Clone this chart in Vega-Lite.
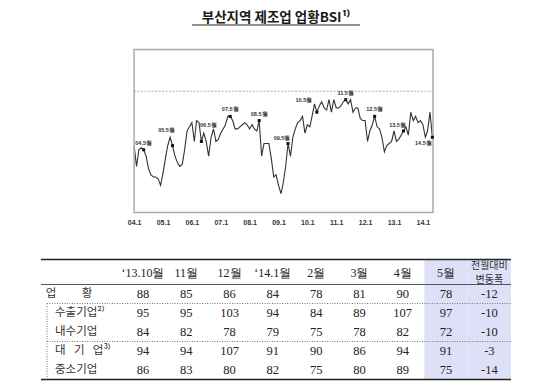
{
  "$schema": "https://vega.github.io/schema/vega-lite/v6.json",
  "background": "white",
  "padding": {"left": 40, "top": 10.5, "right": 0, "bottom": 0},
  "config": {"view": {"stroke": null}, "axisBand": {"disable": true}, "axisTemporal": {"labelOverlap": false}},
  "datasets": {
    "bsi": [
      {"date": "2004/01/01", "bsi": 74}, {"date": "2004/02/01", "bsi": 64}, {"date": "2004/03/01", "bsi": 72}, {"date": "2004/04/01", "bsi": 73},
      {"date": "2004/05/01", "bsi": 72}, {"date": "2004/06/01", "bsi": 69}, {"date": "2004/07/01", "bsi": 63}, {"date": "2004/08/01", "bsi": 60},
      {"date": "2004/09/01", "bsi": 59}, {"date": "2004/10/01", "bsi": 59}, {"date": "2004/11/01", "bsi": 58}, {"date": "2004/12/01", "bsi": 55},
      {"date": "2005/01/01", "bsi": 61}, {"date": "2005/02/01", "bsi": 68}, {"date": "2005/03/01", "bsi": 74}, {"date": "2005/04/01", "bsi": 78},
      {"date": "2005/05/01", "bsi": 74}, {"date": "2005/06/01", "bsi": 69}, {"date": "2005/07/01", "bsi": 66}, {"date": "2005/08/01", "bsi": 64},
      {"date": "2005/09/01", "bsi": 65}, {"date": "2005/10/01", "bsi": 72}, {"date": "2005/11/01", "bsi": 81}, {"date": "2005/12/01", "bsi": 83},
      {"date": "2006/01/01", "bsi": 85}, {"date": "2006/02/01", "bsi": 76}, {"date": "2006/03/01", "bsi": 86}, {"date": "2006/04/01", "bsi": 85},
      {"date": "2006/05/01", "bsi": 76}, {"date": "2006/06/01", "bsi": 80}, {"date": "2006/07/01", "bsi": 76}, {"date": "2006/08/01", "bsi": 69},
      {"date": "2006/09/01", "bsi": 78}, {"date": "2006/10/01", "bsi": 82}, {"date": "2006/11/01", "bsi": 76}, {"date": "2006/12/01", "bsi": 77},
      {"date": "2007/01/01", "bsi": 80}, {"date": "2007/02/01", "bsi": 82}, {"date": "2007/03/01", "bsi": 84}, {"date": "2007/04/01", "bsi": 88},
      {"date": "2007/05/01", "bsi": 88}, {"date": "2007/06/01", "bsi": 86}, {"date": "2007/07/01", "bsi": 82}, {"date": "2007/08/01", "bsi": 82},
      {"date": "2007/09/01", "bsi": 83}, {"date": "2007/10/01", "bsi": 84}, {"date": "2007/11/01", "bsi": 85}, {"date": "2007/12/01", "bsi": 84},
      {"date": "2008/01/01", "bsi": 82}, {"date": "2008/02/01", "bsi": 84}, {"date": "2008/03/01", "bsi": 82}, {"date": "2008/04/01", "bsi": 81},
      {"date": "2008/05/01", "bsi": 86}, {"date": "2008/06/01", "bsi": 69}, {"date": "2008/07/01", "bsi": 75}, {"date": "2008/08/01", "bsi": 75},
      {"date": "2008/09/01", "bsi": 75}, {"date": "2008/10/01", "bsi": 68}, {"date": "2008/11/01", "bsi": 59}, {"date": "2008/12/01", "bsi": 60},
      {"date": "2009/01/01", "bsi": 55}, {"date": "2009/02/01", "bsi": 51}, {"date": "2009/03/01", "bsi": 56}, {"date": "2009/04/01", "bsi": 64},
      {"date": "2009/05/01", "bsi": 75}, {"date": "2009/06/01", "bsi": 69}, {"date": "2009/07/01", "bsi": 78}, {"date": "2009/08/01", "bsi": 82},
      {"date": "2009/09/01", "bsi": 85}, {"date": "2009/10/01", "bsi": 86}, {"date": "2009/11/01", "bsi": 88}, {"date": "2009/12/01", "bsi": 80},
      {"date": "2010/01/01", "bsi": 84}, {"date": "2010/02/01", "bsi": 83}, {"date": "2010/03/01", "bsi": 88}, {"date": "2010/04/01", "bsi": 94},
      {"date": "2010/05/01", "bsi": 90}, {"date": "2010/06/01", "bsi": 93}, {"date": "2010/07/01", "bsi": 95}, {"date": "2010/08/01", "bsi": 92},
      {"date": "2010/09/01", "bsi": 91}, {"date": "2010/10/01", "bsi": 96}, {"date": "2010/11/01", "bsi": 90}, {"date": "2010/12/01", "bsi": 96},
      {"date": "2011/01/01", "bsi": 92}, {"date": "2011/02/01", "bsi": 92}, {"date": "2011/03/01", "bsi": 93}, {"date": "2011/04/01", "bsi": 95},
      {"date": "2011/05/01", "bsi": 96}, {"date": "2011/06/01", "bsi": 94}, {"date": "2011/07/01", "bsi": 96}, {"date": "2011/08/01", "bsi": 90},
      {"date": "2011/09/01", "bsi": 92}, {"date": "2011/10/01", "bsi": 92}, {"date": "2011/11/01", "bsi": 87}, {"date": "2011/12/01", "bsi": 86},
      {"date": "2012/01/01", "bsi": 86}, {"date": "2012/02/01", "bsi": 76}, {"date": "2012/03/01", "bsi": 81}, {"date": "2012/04/01", "bsi": 84},
      {"date": "2012/05/01", "bsi": 88}, {"date": "2012/06/01", "bsi": 83}, {"date": "2012/07/01", "bsi": 82}, {"date": "2012/08/01", "bsi": 78},
      {"date": "2012/09/01", "bsi": 71}, {"date": "2012/10/01", "bsi": 74}, {"date": "2012/11/01", "bsi": 75}, {"date": "2012/12/01", "bsi": 76},
      {"date": "2013/01/01", "bsi": 81}, {"date": "2013/02/01", "bsi": 76}, {"date": "2013/03/01", "bsi": 77}, {"date": "2013/04/01", "bsi": 79},
      {"date": "2013/05/01", "bsi": 81}, {"date": "2013/06/01", "bsi": 83}, {"date": "2013/07/01", "bsi": 79}, {"date": "2013/08/01", "bsi": 90},
      {"date": "2013/09/01", "bsi": 86}, {"date": "2013/10/01", "bsi": 88}, {"date": "2013/11/01", "bsi": 85}, {"date": "2013/12/01", "bsi": 86},
      {"date": "2014/01/01", "bsi": 84}, {"date": "2014/02/01", "bsi": 78}, {"date": "2014/03/01", "bsi": 81}, {"date": "2014/04/01", "bsi": 90},
      {"date": "2014/05/01", "bsi": 78}
    ],
    "cols": [
      {"col": "구분"}, {"col": "‘13.10월"}, {"col": "11월"}, {"col": "12월"}, {"col": "‘14.1월"},
      {"col": "2월"}, {"col": "3월"}, {"col": "4월"}, {"col": "5월"}, {"col": "전월대비\n변동폭"}
    ],
    "table": [
      {"row": "업\u3000\u3000 황", "col": "‘13.10월", "v": 88}, {"row": "업\u3000\u3000 황", "col": "11월", "v": 85}, {"row": "업\u3000\u3000 황", "col": "12월", "v": 86},
      {"row": "업\u3000\u3000 황", "col": "‘14.1월", "v": 84}, {"row": "업\u3000\u3000 황", "col": "2월", "v": 78}, {"row": "업\u3000\u3000 황", "col": "3월", "v": 81},
      {"row": "업\u3000\u3000 황", "col": "4월", "v": 90}, {"row": "업\u3000\u3000 황", "col": "5월", "v": 78}, {"row": "업\u3000\u3000 황", "col": "전월대비\n변동폭", "v": -12},
      {"row": "수출기업²⁾", "col": "‘13.10월", "v": 95}, {"row": "수출기업²⁾", "col": "11월", "v": 95}, {"row": "수출기업²⁾", "col": "12월", "v": 103},
      {"row": "수출기업²⁾", "col": "‘14.1월", "v": 94}, {"row": "수출기업²⁾", "col": "2월", "v": 84}, {"row": "수출기업²⁾", "col": "3월", "v": 89},
      {"row": "수출기업²⁾", "col": "4월", "v": 107}, {"row": "수출기업²⁾", "col": "5월", "v": 97}, {"row": "수출기업²⁾", "col": "전월대비\n변동폭", "v": -10},
      {"row": "내수기업", "col": "‘13.10월", "v": 84}, {"row": "내수기업", "col": "11월", "v": 82}, {"row": "내수기업", "col": "12월", "v": 78},
      {"row": "내수기업", "col": "‘14.1월", "v": 79}, {"row": "내수기업", "col": "2월", "v": 75}, {"row": "내수기업", "col": "3월", "v": 78},
      {"row": "내수기업", "col": "4월", "v": 82}, {"row": "내수기업", "col": "5월", "v": 72}, {"row": "내수기업", "col": "전월대비\n변동폭", "v": -10},
      {"row": "대\u2002 기\u2002 업³⁾", "col": "‘13.10월", "v": 94}, {"row": "대\u2002 기\u2002 업³⁾", "col": "11월", "v": 94}, {"row": "대\u2002 기\u2002 업³⁾", "col": "12월", "v": 107},
      {"row": "대\u2002 기\u2002 업³⁾", "col": "‘14.1월", "v": 91}, {"row": "대\u2002 기\u2002 업³⁾", "col": "2월", "v": 90}, {"row": "대\u2002 기\u2002 업³⁾", "col": "3월", "v": 86},
      {"row": "대\u2002 기\u2002 업³⁾", "col": "4월", "v": 94}, {"row": "대\u2002 기\u2002 업³⁾", "col": "5월", "v": 91}, {"row": "대\u2002 기\u2002 업³⁾", "col": "전월대비\n변동폭", "v": -3},
      {"row": "중소기업", "col": "‘13.10월", "v": 86}, {"row": "중소기업", "col": "11월", "v": 83}, {"row": "중소기업", "col": "12월", "v": 80},
      {"row": "중소기업", "col": "‘14.1월", "v": 82}, {"row": "중소기업", "col": "2월", "v": 75}, {"row": "중소기업", "col": "3월", "v": 80},
      {"row": "중소기업", "col": "4월", "v": 89}, {"row": "중소기업", "col": "5월", "v": 75}, {"row": "중소기업", "col": "전월대비\n변동폭", "v": -14}
    ]
  },
  "spacing": 24,
  "center": true,
  "bounds": "flush",
  "vconcat": [
    {
      "width": 168,
      "height": 1,
      "view": {"fill": "#222222", "stroke": null},
      "title": {"text": "부산지역 제조업 업황BSI¹⁾", "font": "Noto Sans CJK KR", "fontSize": 13.5, "fontWeight": "bold", "color": "#1a1a1a", "anchor": "middle", "offset": -2},
      "data": {"values": [{}]},
      "mark": {"type": "point", "opacity": 0},
      "encoding": {}
    },
    {
      "width": 314,
      "height": 163,
      "data": {"name": "bsi"},
      "layer": [
        {
          "mark": {"type": "line", "color": "#333333", "strokeWidth": 1.1},
          "encoding": {
            "x": {
              "field": "date", "type": "temporal",
              "scale": {"domain": [{"year": 2003, "month": 6, "date": 24}, {"year": 2014, "month": 5, "date": 9}]},
              "axis": {
                "title": null, "domain": false, "ticks": false, "grid": false,
                "tickCount": {"interval": "year", "step": 1},
                "values": [
                  {"year": 2004, "month": 1, "date": 1}, {"year": 2005, "month": 1, "date": 1}, {"year": 2006, "month": 1, "date": 1},
                  {"year": 2007, "month": 1, "date": 1}, {"year": 2008, "month": 1, "date": 1}, {"year": 2009, "month": 1, "date": 1},
                  {"year": 2010, "month": 1, "date": 1}, {"year": 2011, "month": 1, "date": 1}, {"year": 2012, "month": 1, "date": 1},
                  {"year": 2013, "month": 1, "date": 1}, {"year": 2014, "month": 1, "date": 1}
                ],
                "format": "%y.%-m",
                "labelFont": "Liberation Sans", "labelFontSize": 7, "labelFontWeight": "bold", "labelColor": "#333333",
                "labelPadding": 6, "labelFlush": false, "labelOverlap": false, "labelSeparation": 0
              }
            },
            "y": {"field": "bsi", "type": "quantitative", "scale": {"domain": [42, 120], "nice": false, "zero": false}, "axis": null}
          }
        },
        {
          "data": {"values": [{}]},
          "mark": {"type": "rect", "filled": false, "stroke": "#aaaaaa", "strokeWidth": 1.5},
          "encoding": {
            "x": {"datum": {"year": 2004, "month": 1, "date": 1}, "type": "temporal"},
            "x2": {"datum": {"year": 2014, "month": 5, "date": 9}},
            "y": {"datum": 42, "type": "quantitative", "axis": null},
            "y2": {"datum": 120}
          }
        },
        {
          "data": {"values": [{}]},
          "mark": {"type": "rule", "color": "#999999", "strokeWidth": 0.8, "strokeDash": [2, 1.5]},
          "encoding": {
            "x": {"datum": {"year": 2004, "month": 1, "date": 1}, "type": "temporal"},
            "x2": {"datum": {"year": 2014, "month": 5, "date": 9}},
            "y": {"datum": 100, "type": "quantitative", "axis": null}
          }
        },
        {
          "transform": [{"filter": "month(datum.date) == 4"}],
          "mark": {"type": "square", "size": 9, "color": "#111111", "opacity": 1},
          "encoding": {
            "x": {"field": "date", "type": "temporal"},
            "y": {"field": "bsi", "type": "quantitative", "axis": null}
          }
        },
        {
          "transform": [{"filter": "month(datum.date) == 4 && indexof([2004, 2007, 2008, 2011, 2012], year(datum.date)) >= 0"}],
          "mark": {"type": "text", "font": "Liberation Sans", "fontSize": 5.5, "fontWeight": "bold", "color": "#333333", "dy": -7},
          "encoding": {
            "x": {"field": "date", "type": "temporal"},
            "y": {"field": "bsi", "type": "quantitative", "axis": null},
            "text": {"field": "date", "type": "temporal", "format": "%y.%-m월"}
          }
        },
        {
          "transform": [{"filter": "month(datum.date) == 4 && indexof([2009, 2013], year(datum.date)) >= 0"}],
          "mark": {"type": "text", "font": "Liberation Sans", "fontSize": 5.5, "fontWeight": "bold", "color": "#333333", "dx": -6, "dy": -6},
          "encoding": {
            "x": {"field": "date", "type": "temporal"},
            "y": {"field": "bsi", "type": "quantitative", "axis": null},
            "text": {"field": "date", "type": "temporal", "format": "%y.%-m월"}
          }
        },
        {
          "transform": [{"filter": "month(datum.date) == 4 && year(datum.date) == 2005"}],
          "mark": {"type": "text", "font": "Liberation Sans", "fontSize": 5.5, "fontWeight": "bold", "color": "#333333", "dx": -6, "dy": -16},
          "encoding": {
            "x": {"field": "date", "type": "temporal"},
            "y": {"field": "bsi", "type": "quantitative", "axis": null},
            "text": {"field": "date", "type": "temporal", "format": "%y.%-m월"}
          }
        },
        {
          "transform": [{"filter": "month(datum.date) == 4 && year(datum.date) == 2010"}],
          "mark": {"type": "text", "font": "Liberation Sans", "fontSize": 5.5, "fontWeight": "bold", "color": "#333333", "dx": -13, "dy": -12},
          "encoding": {
            "x": {"field": "date", "type": "temporal"},
            "y": {"field": "bsi", "type": "quantitative", "axis": null},
            "text": {"field": "date", "type": "temporal", "format": "%y.%-m월"}
          }
        },
        {
          "transform": [{"filter": "month(datum.date) == 4 && year(datum.date) == 2006"}],
          "mark": {"type": "text", "font": "Liberation Sans", "fontSize": 5.5, "fontWeight": "bold", "color": "#333333", "dx": 7, "dy": -16},
          "encoding": {
            "x": {"field": "date", "type": "temporal"},
            "y": {"field": "bsi", "type": "quantitative", "axis": null},
            "text": {"field": "date", "type": "temporal", "format": "%y.%-m월"}
          }
        },
        {
          "transform": [{"filter": "month(datum.date) == 4 && year(datum.date) == 2014"}],
          "mark": {"type": "text", "font": "Liberation Sans", "fontSize": 5.5, "fontWeight": "bold", "color": "#333333", "dx": -9, "dy": 6},
          "encoding": {
            "x": {"field": "date", "type": "temporal"},
            "y": {"field": "bsi", "type": "quantitative", "axis": null},
            "text": {"field": "date", "type": "temporal", "format": "%y.%-m월"}
          }
        }
      ]
    },
    {
      "width": 470,
      "height": 143,
      "layer": [
        {
          "data": {"name": "cols"},
          "transform": [{"filter": {"field": "col", "oneOf": ["5월", "전월대비\n변동폭"]}}],
          "mark": {"type": "rect", "color": "#dde0f6", "yOffset": -15.5, "y2Offset": 9.5},
          "encoding": {
            "x": {
              "field": "col", "type": "nominal", "axis": null,
              "scale": {
                "domain": ["구분", "‘13.10월", "11월", "12월", "‘14.1월", "2월", "3월", "4월", "5월", "전월대비\n변동폭"],
                "paddingInner": 0, "paddingOuter": 0.427, "align": 1, "round": false
              }
            },
            "y": {"datum": "hdr", "type": "nominal", "axis": null},
            "y2": {"datum": "중소기업"}
          }
        },
        {
          "data": {"name": "table"},
          "mark": {"type": "text", "font": "Liberation Serif", "fontSize": 12.5, "color": "#222222"},
          "encoding": {
            "x": {"field": "col", "type": "nominal", "axis": null},
            "y": {
              "field": "row", "type": "nominal", "axis": null,
              "scale": {
                "domain": ["hdr", "업\u3000\u3000 황", "수출기업²⁾", "내수기업", "대\u2002 기\u2002 업³⁾", "중소기업"],
                "paddingInner": 0, "paddingOuter": 0.7632, "align": 1, "round": false
              }
            },
            "text": {"field": "v", "type": "nominal"}
          }
        },
        {
          "data": {"values": [{}]},
          "mark": {"type": "rule", "color": "#222222", "strokeWidth": 1.6, "yOffset": -15.5},
          "encoding": {"y": {"datum": "hdr", "type": "nominal", "axis": null}}
        },
        {
          "data": {"values": [{}]},
          "mark": {"type": "rule", "color": "#444444", "strokeWidth": 0.9, "yOffset": 9.5},
          "encoding": {"y": {"datum": "hdr", "type": "nominal", "axis": null}}
        },
        {
          "data": {"values": [{}]},
          "mark": {"type": "rule", "color": "#222222", "strokeWidth": 1.6, "yOffset": 9.5},
          "encoding": {"y": {"datum": "중소기업", "type": "nominal", "axis": null}}
        },
        {
          "data": {"values": [{"row": "업\u3000\u3000 황"}, {"row": "내수기업"}]},
          "mark": {"type": "rule", "color": "#777777", "strokeWidth": 1, "strokeDash": [1, 1.5], "yOffset": 9.5, "xOffset": -52.6, "x2Offset": 21.65},
          "encoding": {
            "y": {"field": "row", "type": "nominal", "axis": null},
            "x": {"datum": "구분", "type": "nominal", "axis": null},
            "x2": {"datum": "전월대비\n변동폭"}
          }
        },
        {
          "data": {"values": [{}]},
          "mark": {"type": "rule", "color": "#777777", "strokeWidth": 1, "strokeDash": [1, 1.5], "xOffset": -52.6, "yOffset": -9.5, "y2Offset": 9.5},
          "encoding": {
            "x": {"datum": "구분", "type": "nominal", "axis": null},
            "y": {"datum": "수출기업²⁾", "type": "nominal", "axis": null},
            "y2": {"datum": "중소기업"}
          }
        },
        {
          "data": {"name": "cols"},
          "transform": [{"filter": {"not": {"field": "col", "oneOf": ["구분", "전월대비\n변동폭"]}}}],
          "mark": {"type": "text", "font": "Liberation Serif", "fontSize": 12, "color": "#222222", "dy": -2},
          "encoding": {
            "x": {"field": "col", "type": "nominal", "axis": null},
            "y": {"datum": "hdr", "type": "nominal", "axis": null},
            "text": {"field": "col", "type": "nominal"}
          }
        },
        {
          "data": {"name": "cols"},
          "transform": [{"filter": {"field": "col", "equal": "전월대비\n변동폭"}}],
          "mark": {"type": "text", "font": "Noto Sans CJK KR", "fontSize": 10, "color": "#333333", "lineBreak": "\n", "lineHeight": 13.5, "dy": -9},
          "encoding": {
            "x": {"field": "col", "type": "nominal", "axis": null},
            "y": {"datum": "hdr", "type": "nominal", "axis": null},
            "text": {"field": "col", "type": "nominal"}
          }
        },
        {
          "data": {"name": "table"},
          "transform": [{"filter": {"field": "col", "equal": "‘13.10월"}}, {"filter": {"field": "row", "equal": "업\u3000\u3000 황"}}],
          "mark": {"type": "text", "font": "Noto Sans CJK KR", "fontSize": 11.5, "color": "#333333", "align": "left", "dx": -54},
          "encoding": {
            "x": {"datum": "구분", "type": "nominal", "axis": null},
            "y": {"field": "row", "type": "nominal", "axis": null},
            "text": {"field": "row", "type": "nominal"}
          }
        },
        {
          "data": {"name": "table"},
          "transform": [{"filter": {"field": "col", "equal": "‘13.10월"}}, {"filter": {"not": {"field": "row", "equal": "업\u3000\u3000 황"}}}],
          "mark": {"type": "text", "font": "Noto Sans CJK KR", "fontSize": 11.5, "color": "#333333", "align": "left", "dx": -44.6},
          "encoding": {
            "x": {"datum": "구분", "type": "nominal", "axis": null},
            "y": {"field": "row", "type": "nominal", "axis": null},
            "text": {"field": "row", "type": "nominal"}
          }
        }
      ]
    }
  ]
}
